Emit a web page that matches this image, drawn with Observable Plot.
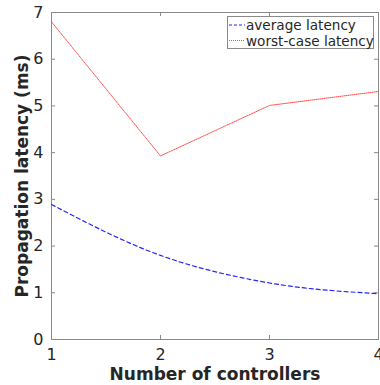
<!DOCTYPE html>
<html><head><meta charset="utf-8">
<script src="https://cdn.jsdelivr.net/npm/d3@7"></script>
<script src="https://cdn.jsdelivr.net/npm/@observablehq/plot@0.6"></script>
<style>body{margin:0;background:#fff}</style>
</head><body><div id="chart"></div>
<script>
const controllers = [1, 2, 3, 4];
const averageLatency = [2.89, 1.80, 1.21, 0.98];
const worstLatency = [6.80, 3.93, 5.01, 5.31];
const xTicks = [1, 2, 3, 4];
const yTicks = [0, 1, 2, 3, 4, 5, 6, 7];
const seriesNames = ["average latency", "worst-case latency"];
const seriesColors = ["#2626ff", "#ff4a4a"];

const avg = controllers.map((c, i) => ({x: c, y: averageLatency[i]}));
const worst = controllers.map((c, i) => ({x: c, y: worstLatency[i]}));

const W = 380, H = 385, mL = 51, mR = 2, mT = 12, mB = 46;
const pw = W - mL - mR, ph = H - mT - mB;
const axisColor = "#8a8a8a", textColor = "#262626";

const chart = Plot.plot({
  width: W, height: H,
  marginLeft: mL, marginRight: mR, marginTop: mT, marginBottom: mB,
  style: {fontFamily: "DejaVu Sans", fontSize: "16px", color: textColor, background: "#fff", overflow: "visible"},
  x: {domain: [1, 4], ticks: xTicks},
  y: {domain: [0, 7], ticks: yTicks},
  marks: [
    Plot.frame({stroke: axisColor, strokeWidth: 1}),
    Plot.tickX(xTicks, {x: d => d, stroke: axisColor, insetTop: ph - 4}),
    Plot.tickX(xTicks, {x: d => d, stroke: axisColor, insetBottom: ph - 4}),
    Plot.tickY(yTicks, {y: d => d, stroke: axisColor, insetLeft: pw - 4}),
    Plot.tickY(yTicks, {y: d => d, stroke: axisColor, insetRight: pw - 4}),
    Plot.axisX(xTicks, {tickSize: 0, tickPadding: 9, fontSize: 16, fill: textColor,
      label: "Number of controllers", labelAnchor: "center", labelArrow: "none", labelOffset: 40}),
    Plot.axisY(yTicks, {tickSize: 0, tickPadding: 8, fontSize: 16, fill: textColor,
      label: "Propagation latency (ms)", labelAnchor: "center", labelArrow: "none", labelOffset: 36}),
    Plot.line(avg, {x: "x", y: "y", stroke: seriesColors[0], strokeWidth: 1.2, strokeDasharray: "4,3", curve: "monotone-x"}),
    Plot.line(worst, {x: "x", y: "y", stroke: seriesColors[1], strokeWidth: 1, strokeDasharray: "1,1"})
  ]
});
document.getElementById("chart").appendChild(chart);

const svg = d3.select(chart);
svg.selectAll("[aria-label='x-axis label'] text, [aria-label='y-axis label'] text")
  .style("font-weight", "bold").style("font-size", "17px").attr("fill", textColor);

// legend
const lg = svg.append("g").attr("font-family", "DejaVu Sans").attr("font-size", 13.6)
  .attr("text-anchor", "start");
lg.append("rect").attr("x", 227.5).attr("y", 16.5).attr("width", 146).attr("height", 32)
  .attr("fill", "#fff").attr("stroke", axisColor);
seriesNames.forEach((name, i) => {
  const yy = 25 + i * 15.5;
  lg.append("line").attr("x1", 229).attr("x2", 245).attr("y1", yy).attr("y2", yy)
    .attr("stroke", seriesColors[i]).attr("stroke-width", i ? 1 : 1.2)
    .attr("stroke-dasharray", i ? "1,1" : "3,2");
  lg.append("text").attr("x", 246).attr("y", yy + 5).attr("fill", textColor)
    .attr("text-anchor", "start").text(name);
});
</script></body></html>
